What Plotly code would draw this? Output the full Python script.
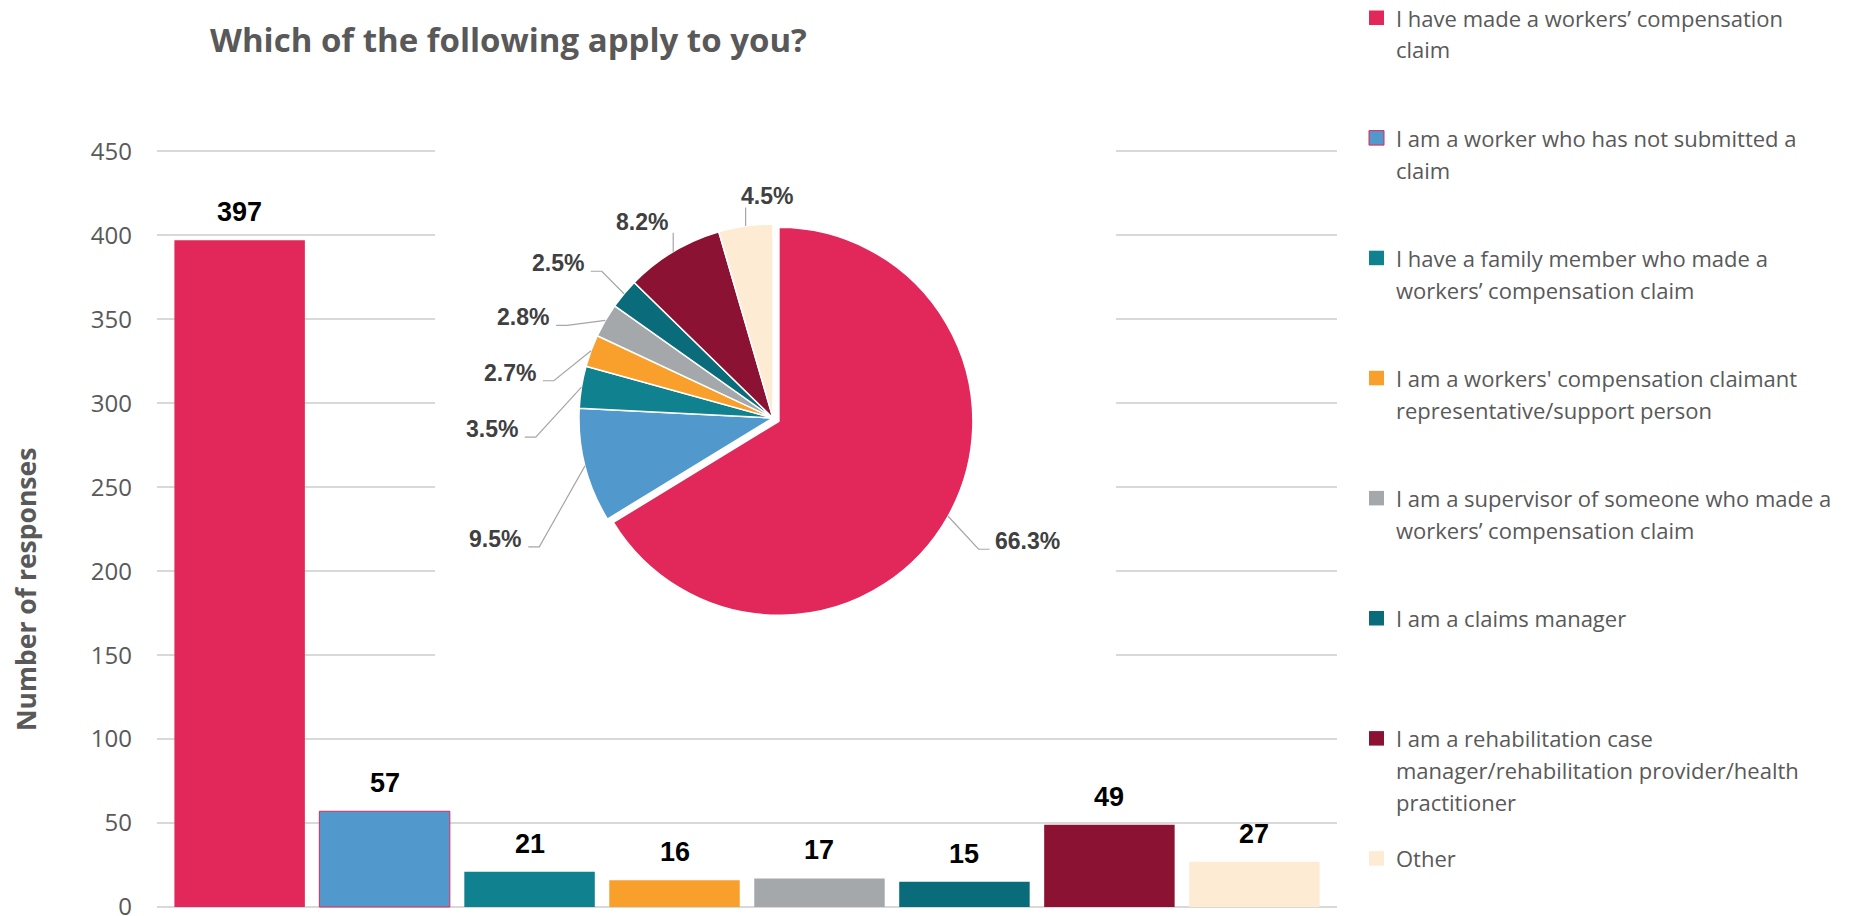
import math
import plotly.graph_objects as go

# ---- data -------------------------------------------------------------
CATEGORIES = [
    "I have made a workers’ compensation<br>claim",
    "I am a worker who has not submitted a<br>claim",
    "I have a family member who made a<br>workers’ compensation claim",
    "I am a workers' compensation claimant<br>representative/support person",
    "I am a supervisor of someone who made a<br>workers’ compensation claim",
    "I am a claims manager",
    "I am a rehabilitation case<br>manager/rehabilitation provider/health<br>practitioner",
    "Other",
]
RESPONSES = [397, 57, 21, 16, 17, 15, 49, 27]
Y_TICKS = [0, 50, 100, 150, 200, 250, 300, 350, 400, 450]
TITLE = "Which of the following apply to you?"
Y_TITLE = "Number of responses"

# ---- style ------------------------------------------------------------
COLORS = ["#E2275A", "#5199CC", "#10818F", "#F89F2C",
          "#A5A8AB", "#0A6C7A", "#8C1233", "#FDEBD4"]
OUTLINES = ["rgba(0,0,0,0)", "#E2275A", "rgba(0,0,0,0)", "rgba(0,0,0,0)",
            "rgba(0,0,0,0)", "rgba(0,0,0,0)", "rgba(0,0,0,0)", "rgba(0,0,0,0)"]
PULL = [0.035, 0, 0, 0, 0, 0, 0, 0]
TEXT_GREY = "#595959"
GRID = "#D9D9D9"

W, H = 1851, 916


def px(x):
    return x / W


def py(y):
    return 1 - y / H


# plot-area geometry (pixels)
X_LEFT, X_RIGHT = 157, 1337
Y_ZERO, PX_PER_UNIT = 907, 1.6793
Y_MIN, Y_MAX = -2, 455
X_RANGE = [-0.57, len(CATEGORIES) - 0.43]

# inset pie geometry (pixels)
PIE_CX, PIE_CY, PIE_R = 773, 418, 194
# percentage label offsets from the slice anchor, and leader style
LABEL_OFFSETS = [(79, 25), (-89.5, 73), (-89.5, 42), (-81, 22),
                 (-82, -3), (-66, -30.5), (-31, -30), (21, -29.5)]
LEADER_STYLE = ["right", "left", "left", "left", "left", "left", "up", "up"]

fig = go.Figure()

# ---- bars -------------------------------------------------------------
fig.add_trace(go.Bar(
    x=list(range(len(CATEGORIES))),
    y=RESPONSES,
    width=0.9,
    marker=dict(color=COLORS, line=dict(color=OUTLINES, width=1)),
    showlegend=False,
    hoverinfo="skip",
))

for i, v in enumerate(RESPONSES):
    fig.add_annotation(
        x=i, y=v, xref="x", yref="y", text=str(v), showarrow=False,
        yanchor="middle", yshift=28,
        font=dict(family="Liberation Sans, Arial", size=27, color="#000000",
                  weight="bold"),
    )

# ---- pie --------------------------------------------------------------
max_pull = max(PULL)
half_box = PIE_R * (1 + max_pull)
fig.add_trace(go.Pie(
    values=RESPONSES,
    labels=[c.replace("<br>", " ") for c in CATEGORIES],
    sort=False,
    direction="clockwise",
    rotation=0,
    pull=PULL,
    textinfo="none",
    marker=dict(colors=COLORS, line=dict(color="#FFFFFF", width=1.5)),
    domain=dict(x=[px(PIE_CX - half_box), px(PIE_CX + half_box)],
                y=[py(PIE_CY + half_box), py(PIE_CY - half_box)]),
    showlegend=False,
    hoverinfo="skip",
))

total = sum(RESPONSES)
start = 0.0
shapes = []
for i, v in enumerate(RESPONSES):
    frac = v / total
    theta = 2 * math.pi * (start + frac / 2)
    start += frac
    r_eff = PIE_R * (1 + PULL[i])
    ax = PIE_CX + r_eff * math.sin(theta)
    ay = PIE_CY - r_eff * math.cos(theta)
    dx, dy = LABEL_OFFSETS[i]
    cx, cy = ax + dx, ay + dy
    label = f"{100 * frac:.1f}%"
    hw = 6.7 * len(label)
    fig.add_annotation(
        x=px(cx), y=py(cy), xref="paper", yref="paper", text=label,
        showarrow=False, xanchor="center", yanchor="middle",
        font=dict(family="Liberation Sans, Arial", size=23, color="#404040",
                  weight="bold"),
    )
    style = LEADER_STYLE[i]
    if style == "left":
        end = (cx + hw + 6, cy + 8)
        elbow = (end[0] + 11, end[1])
        pts = [(ax, ay), elbow, end]
    elif style == "right":
        end = (cx - hw - 4, cy + 8)
        elbow = (end[0] - 11, end[1])
        pts = [(ax, ay), elbow, end]
    else:
        pts = [(ax, ay), (ax, cy + 11)]
    path = "M " + " L ".join(f"{px(x):.5f},{py(y):.5f}" for x, y in pts)
    shapes.append(dict(type="path", path=path, xref="paper", yref="paper",
                       line=dict(color="#A6A6A6", width=1.2), layer="above"))

# white panel behind the pie, hiding the gridlines there
px_per_cat = (X_RIGHT - X_LEFT) / (X_RANGE[1] - X_RANGE[0])
shapes.append(dict(
    type="rect", xref="x", yref="y", layer="between",
    x0=(435 - X_LEFT) / px_per_cat + X_RANGE[0],
    x1=(1116 - X_LEFT) / px_per_cat + X_RANGE[0],
    y0=(Y_ZERO - 700) / PX_PER_UNIT, y1=Y_MAX,
    fillcolor="#FFFFFF", line=dict(width=0),
))

# ---- legend (drawn by hand for fixed spacing) -------------------------
LEG_SQ_X0, LEG_SQ_X1, LEG_TEXT_X = 1369, 1384, 1394
LEG_TOP, LEG_STEP, LEG_LINE = 17.5, 120.1, 32
for i, cat in enumerate(CATEGORIES):
    y0 = LEG_TOP + i * LEG_STEP
    shapes.append(dict(
        type="rect", xref="paper", yref="paper",
        x0=px(LEG_SQ_X0), x1=px(LEG_SQ_X1), y0=py(y0 + 7.5), y1=py(y0 - 7),
        fillcolor=COLORS[i], line=dict(color=OUTLINES[i], width=1),
    ))
    for j, line in enumerate(cat.split("<br>")):
        fig.add_annotation(
            x=px(LEG_TEXT_X), y=py(y0 + j * LEG_LINE), xref="paper",
            yref="paper", text=line, showarrow=False, xanchor="left",
            yanchor="middle",
            font=dict(family="Open Sans", size=22, color=TEXT_GREY),
        )

# ---- titles -----------------------------------------------------------
fig.add_annotation(
    x=px(508), y=py(39), xref="paper", yref="paper", text=TITLE,
    showarrow=False, xanchor="center", yanchor="middle",
    font=dict(family="Open Sans", size=33, color=TEXT_GREY, weight="bold"),
)
fig.add_annotation(
    x=px(26), y=py(590), xref="paper", yref="paper", text=Y_TITLE,
    showarrow=False, textangle=-90, xanchor="center", yanchor="middle",
    font=dict(family="Open Sans", size=26.5, color=TEXT_GREY, weight="bold"),
)

fig.update_layout(
    width=W, height=H,
    margin=dict(l=0, r=0, t=0, b=0),
    paper_bgcolor="#FFFFFF", plot_bgcolor="#FFFFFF",
    shapes=shapes,
    bargap=0.1,
    xaxis=dict(
        domain=[px(X_LEFT), px(X_RIGHT)], range=X_RANGE,
        showticklabels=False, showgrid=False, zeroline=False, ticks="",
        automargin=False, fixedrange=True,
    ),
    yaxis=dict(
        domain=[py(Y_ZERO - Y_MIN * PX_PER_UNIT),
                py(Y_ZERO - Y_MAX * PX_PER_UNIT)],
        range=[Y_MIN, Y_MAX], tickvals=Y_TICKS,
        ticktext=[str(t) for t in Y_TICKS],
        showgrid=True, gridcolor=GRID, gridwidth=1.5,
        zeroline=False, ticks="", ticklabelstandoff=24,
        ticklabeloverflow="allow",
        tickfont=dict(family="Open Sans", size=24, color=TEXT_GREY),
        automargin=False, fixedrange=True,
    ),
)

fig.write_html("out.html")
